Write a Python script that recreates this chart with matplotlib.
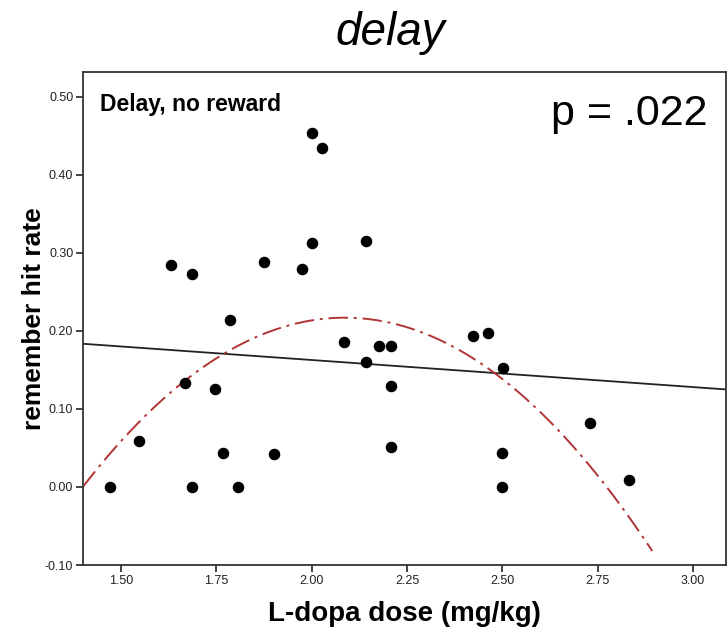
import numpy as np
import matplotlib
matplotlib.use("Agg")
import matplotlib.pyplot as plt

plt.rcParams['font.family'] = ['Liberation Sans', 'DejaVu Sans']

# L-dopa dose (mg/kg) and remember hit rate per participant
dose = [1.47, 1.547, 1.631, 1.686, 1.667, 1.686, 1.746, 1.766, 1.786, 1.807,
        1.900, 1.875, 1.974, 2.001, 2.028, 2.001, 2.085, 2.143, 2.143, 2.175,
        2.207, 2.207, 2.207, 2.422, 2.461, 2.502, 2.50, 2.50, 2.729, 2.833]
hit_rate = [0.000, 0.059, 0.284, 0.273, 0.133, 0.000, 0.125, 0.044, 0.214, 0.000,
            0.042, 0.288, 0.280, 0.454, 0.434, 0.313, 0.186, 0.315, 0.160, 0.181,
            0.181, 0.130, 0.051, 0.194, 0.197, 0.152, 0.044, 0.000, 0.082, 0.009]

x_ticks = [1.50, 1.75, 2.00, 2.25, 2.50, 2.75, 3.00]
y_ticks = [-0.10, 0.00, 0.10, 0.20, 0.30, 0.40, 0.50]
x_range = (1.40, 3.085)
y_range = (-0.10, 0.532)
quad_range = (1.40, 2.893)

x = np.asarray(dose)
y = np.asarray(hit_rate)

fig = plt.figure(figsize=(7.27, 6.34), dpi=100)
ax = fig.add_axes([83 / 727, 69 / 634, (725.5 - 83) / 727, (565 - 72) / 634])

# linear and quadratic least-squares fits
lin = np.polyfit(x, y, 1)
quad = np.polyfit(x, y, 2)
xl = np.linspace(*x_range, 200)
ax.plot(xl, np.polyval(lin, xl), color='#222222', lw=1.3, zorder=2)
xq = np.linspace(*quad_range, 300)
ax.plot(xq, np.polyval(quad, xq), color='#b23434', lw=1.4,
        dashes=(10, 3, 1.5, 3), zorder=2)

ax.plot(x, y, 'o', color='black', markersize=7.3, zorder=3)

ax.set_xlim(*x_range)
ax.set_ylim(*y_range)
ax.set_xticks(x_ticks)
ax.set_xticklabels([f"{v:.2f}" for v in x_ticks])
ax.set_yticks(y_ticks)
ax.set_yticklabels([f"{v:.2f}" for v in y_ticks])
ax.tick_params(direction='out', length=5, width=1.2, labelsize=9,
               colors='#222222', pad=2)
for s in ax.spines.values():
    s.set_linewidth(1.3)
    s.set_color('#333333')

ax.set_xlabel("L-dopa dose (mg/kg)", fontsize=20, fontweight='bold', labelpad=10)
ax.set_ylabel("remember hit rate", fontsize=19, fontweight='bold', labelpad=-1)

ax.text(0.026, 0.9215, "Delay, no reward", transform=ax.transAxes,
        fontsize=16.5, fontweight='bold', va='baseline', ha='left')
ax.text(0.972, 0.8925, "p = .022", transform=ax.transAxes,
        fontsize=31, va='baseline', ha='right')

fig.text(390 / 727, 1 - 45 / 634, "delay", fontsize=33, style='italic',
         ha='center', va='baseline')

fig.savefig("out.png", dpi=100)
